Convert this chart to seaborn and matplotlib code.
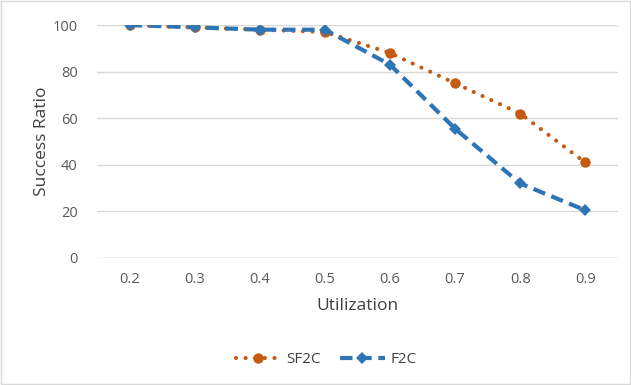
import matplotlib
matplotlib.use("Agg")
import matplotlib.pyplot as plt
from matplotlib.patches import Rectangle
import seaborn as sns
import pandas as pd

utilization = [0.2, 0.3, 0.4, 0.5, 0.6, 0.7, 0.8, 0.9]
sf2c = [100, 99, 98, 97, 88, 75, 62, 41]
f2c = [100, 99, 98, 98, 83, 55.5, 32, 20.5]
series_names = ["SF2C", "F2C"]

df = pd.DataFrame({
    "Utilization": utilization * 2,
    "Success Ratio": sf2c + f2c,
    "Series": [series_names[0]] * len(sf2c) + [series_names[1]] * len(f2c),
})

sns.set_theme(style="white")
plt.rcParams["font.family"] = ["Open Sans", "DejaVu Sans"]

fig = plt.figure(figsize=(6.31, 3.85), dpi=100)
ax = fig.add_axes([0.154, 0.33, 0.825, 0.605])

orange = "#C55A11"
blue = "#2E75B6"

sns.lineplot(data=df[df["Series"] == "SF2C"], x="Utilization", y="Success Ratio",
             ax=ax, color=orange, linewidth=3.0, linestyle=(0, (0.01, 2.3)),
             dash_capstyle="round", marker="o", markersize=7.5,
             markeredgewidth=0, label="SF2C")
sns.lineplot(data=df[df["Series"] == "F2C"], x="Utilization", y="Success Ratio",
             ax=ax, color=blue, linewidth=3.0, linestyle=(0, (3.0, 1.6)),
             marker="D", markersize=6.5, markeredgewidth=0, label="F2C")

ax.set_xlim(0.15, 0.95)
ax.set_ylim(0, 100)
ax.set_xticks(utilization)
ax.set_xticklabels([f"{u:.1f}" for u in utilization])
ax.set_yticks([0, 20, 40, 60, 80, 100])
ax.yaxis.grid(True, color="#D9D9D9", linewidth=1)
ax.set_axisbelow(True)
for s in ax.spines.values():
    s.set_visible(False)
ax.axhline(0, color="#D9D9D9", linewidth=1, zorder=0)
ax.tick_params(axis="both", length=0, labelsize=10.5, labelcolor="#595959")
ax.tick_params(axis="y", pad=14)
ax.tick_params(axis="x", pad=10)
ax.set_xlabel("Utilization", fontsize=12.5, color="#404040", labelpad=8)
ax.set_ylabel("Success Ratio", fontsize=12.5, color="#404040", labelpad=2)

leg = ax.legend(loc="upper center", bbox_to_anchor=(0.44, -0.345), ncol=2,
                frameon=False, fontsize=11, handlelength=3.0, columnspacing=1.2,
                handletextpad=0.35)
for t in leg.get_texts():
    t.set_color("#404040")

fig.patches.append(Rectangle((0.002, 0.003), 0.996, 0.994, transform=fig.transFigure,
                             fill=False, edgecolor="#D9D9D9", linewidth=1))

fig.savefig("out.png", dpi=100)
